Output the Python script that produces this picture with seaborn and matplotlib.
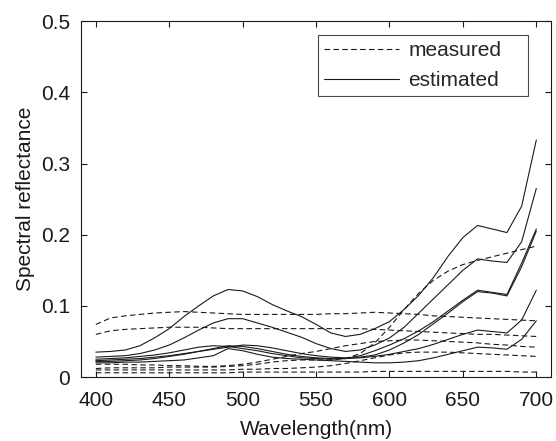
import matplotlib
matplotlib.use("Agg")
import matplotlib.pyplot as plt
import seaborn as sns
from matplotlib.lines import Line2D

# wavelength samples (nm)
wavelength = list(range(400, 701, 10))

# measured spectra (dashed)
meas_1 = [0.074, 0.083, 0.086, 0.088, 0.090, 0.091, 0.092, 0.091, 0.090, 0.089, 0.088,
          0.088, 0.088, 0.088, 0.088, 0.088, 0.089, 0.089, 0.090, 0.091, 0.090,
          0.089, 0.088, 0.086, 0.085, 0.084, 0.083, 0.082, 0.081, 0.080, 0.079]
meas_2 = [0.060, 0.065, 0.067, 0.068, 0.069, 0.070, 0.070, 0.070, 0.069, 0.068, 0.068,
          0.068, 0.068, 0.068, 0.068, 0.068, 0.068, 0.068, 0.068, 0.067, 0.066,
          0.065, 0.064, 0.063, 0.062, 0.061, 0.060, 0.060, 0.059, 0.058, 0.057]
meas_3 = [0.012, 0.013, 0.013, 0.013, 0.013, 0.014, 0.014, 0.014, 0.014, 0.015, 0.016,
          0.018, 0.021, 0.023, 0.024, 0.024, 0.024, 0.026, 0.033, 0.048, 0.070,
          0.095, 0.118, 0.136, 0.149, 0.158, 0.164, 0.169, 0.174, 0.179, 0.184]
meas_4 = [0.018, 0.018, 0.018, 0.017, 0.017, 0.016, 0.016, 0.015, 0.015, 0.016, 0.018,
          0.021, 0.025, 0.029, 0.033, 0.036, 0.040, 0.044, 0.047, 0.050, 0.051,
          0.052, 0.052, 0.051, 0.050, 0.049, 0.048, 0.046, 0.045, 0.043, 0.042]
meas_5 = [0.010, 0.010, 0.010, 0.010, 0.010, 0.010, 0.010, 0.010, 0.010, 0.010, 0.011,
          0.011, 0.012, 0.012, 0.013, 0.014, 0.016, 0.019, 0.023, 0.027, 0.031,
          0.034, 0.035, 0.035, 0.035, 0.034, 0.033, 0.032, 0.031, 0.030, 0.029]
meas_6 = [0.006, 0.006, 0.006, 0.006, 0.006, 0.006, 0.006, 0.006, 0.006, 0.006, 0.007,
          0.007, 0.007, 0.007, 0.007, 0.007, 0.007, 0.007, 0.007, 0.008, 0.008,
          0.008, 0.008, 0.008, 0.008, 0.008, 0.008, 0.008, 0.008, 0.007, 0.007]

# estimated spectra (solid)
est_1 = [0.035, 0.036, 0.038, 0.044, 0.055, 0.068, 0.085, 0.100, 0.114, 0.123, 0.121,
         0.113, 0.102, 0.093, 0.085, 0.074, 0.062, 0.057, 0.060, 0.068, 0.078,
         0.095, 0.115, 0.140, 0.170, 0.196, 0.213, 0.208, 0.203, 0.240, 0.333]
est_2 = [0.028, 0.029, 0.030, 0.033, 0.038, 0.045, 0.055, 0.066, 0.076, 0.082, 0.082,
         0.076, 0.070, 0.063, 0.056, 0.047, 0.040, 0.036, 0.038, 0.045, 0.055,
         0.070, 0.090, 0.110, 0.130, 0.150, 0.166, 0.163, 0.161, 0.190, 0.265]
est_3 = [0.025, 0.026, 0.027, 0.029, 0.031, 0.034, 0.038, 0.042, 0.044, 0.043, 0.040,
         0.037, 0.033, 0.030, 0.027, 0.026, 0.025, 0.026, 0.030, 0.037, 0.045,
         0.054, 0.065, 0.078, 0.093, 0.108, 0.122, 0.119, 0.116, 0.160, 0.208]
est_4 = [0.023, 0.024, 0.025, 0.026, 0.028, 0.030, 0.033, 0.036, 0.039, 0.042, 0.045,
         0.044, 0.041, 0.037, 0.033, 0.030, 0.028, 0.027, 0.028, 0.031, 0.038,
         0.048, 0.060, 0.075, 0.090, 0.106, 0.120, 0.118, 0.114, 0.155, 0.205]
est_5 = [0.022, 0.022, 0.023, 0.024, 0.026, 0.029, 0.032, 0.036, 0.040, 0.044, 0.043,
         0.040, 0.036, 0.032, 0.029, 0.027, 0.026, 0.026, 0.027, 0.029, 0.032,
         0.036, 0.040, 0.046, 0.053, 0.060, 0.066, 0.064, 0.062, 0.080, 0.122]
est_6 = [0.020, 0.020, 0.021, 0.021, 0.022, 0.023, 0.024, 0.027, 0.030, 0.040, 0.037,
         0.032, 0.028, 0.026, 0.025, 0.024, 0.023, 0.022, 0.021, 0.020, 0.020,
         0.021, 0.023, 0.027, 0.032, 0.037, 0.042, 0.041, 0.039, 0.053, 0.079]

measured = [meas_1, meas_2, meas_3, meas_4, meas_5, meas_6]
estimated = [est_1, est_2, est_3, est_4, est_5, est_6]

sns.set_theme(style="ticks")
plt.rcParams['font.family'] = ['Liberation Sans', 'DejaVu Sans']

fig = plt.figure(figsize=(5.56, 4.41), dpi=100)
ax = fig.add_axes([0.146, 0.145, 0.845, 0.807])

for spec in measured:
    sns.lineplot(x=wavelength, y=spec, ax=ax, color='k', lw=0.8,
                 linestyle=(0, (5, 3)), legend=False)
for spec in estimated:
    sns.lineplot(x=wavelength, y=spec, ax=ax, color='k', lw=0.8, legend=False)

ax.set_xlim(390, 710)
ax.set_ylim(0, 0.5)
ax.set_xticks([400, 450, 500, 550, 600, 650, 700])
ax.set_yticks([0, 0.1, 0.2, 0.3, 0.4, 0.5])
ax.set_yticklabels(['0', '0.1', '0.2', '0.3', '0.4', '0.5'])
ax.tick_params(direction='in', top=True, right=True, length=4, width=0.8,
               labelsize=15, colors='k')
ax.tick_params(axis='x', pad=10)
ax.tick_params(axis='y', pad=8)
for s in ax.spines.values():
    s.set_color('k')
    s.set_linewidth(0.8)
ax.set_xlabel('Wavelength(nm)', fontsize=15, color='k', labelpad=7)
ax.set_ylabel('Spectral reflectance', fontsize=15, color='k', labelpad=4)

# MATLAB style legend box, text left aligned with spare room on the right
handles = [Line2D([], [], color='k', lw=0.8, linestyle=(0, (5, 3))),
           Line2D([], [], color='k', lw=0.8)]
leg = ax.legend(handles, ['measured', 'estimated'], loc='upper right',
                bbox_to_anchor=(0.504, 0.0, 0.447, 0.961), mode='expand',
                borderaxespad=0, fontsize=15, frameon=True, fancybox=False,
                edgecolor='k', handlelength=3.6, handletextpad=0.45,
                borderpad=0.28, labelspacing=0.55)
leg.get_frame().set_linewidth(0.8)

fig.savefig('out.png', dpi=100, facecolor='white')
